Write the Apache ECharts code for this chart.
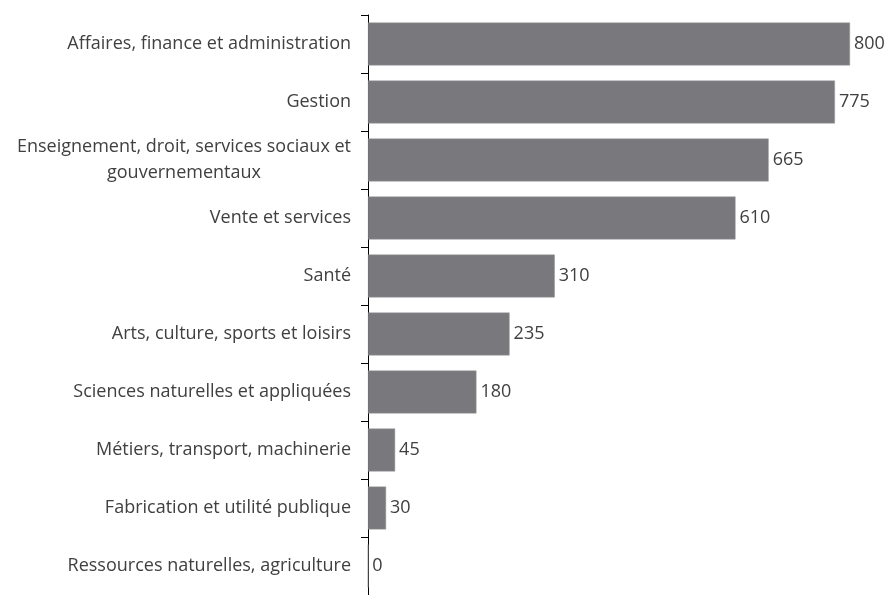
<!DOCTYPE html>
<html><head><meta charset="utf-8">
<script src="https://cdn.jsdelivr.net/npm/echarts@6/dist/echarts.min.js"></script>
<style>html,body{margin:0;padding:0;background:#fff}#c{width:887px;height:595px}</style>
</head><body><div id="c"></div>
<script>
const categories = [
  "Affaires, finance et administration",
  "Gestion",
  "Enseignement, droit, services sociaux et\ngouvernementaux",
  "Vente et services",
  "Santé",
  "Arts, culture, sports et loisirs",
  "Sciences naturelles et appliquées",
  "Métiers, transport, machinerie",
  "Fabrication et utilité publique",
  "Ressources naturelles, agriculture"
];
const values = [800, 775, 665, 610, 310, 235, 180, 45, 30, 0];

const chart = echarts.init(document.getElementById('c'));
const FONT = 'Open Sans';
const FS = 18;
chart.setOption({
  animation: false,
  grid: {left: 368, top: 15, width: 482, height: 582, containLabel: false},
  xAxis: {type: 'value', min: 0, max: 800, show: false},
  yAxis: {
    type: 'category', data: categories, inverse: true,
    axisLine: {show: true, lineStyle: {color: '#000', width: 1}},
    axisTick: {show: true, length: 7, lineStyle: {color: '#000'}},
    axisLabel: {
      margin: 17, color: '#404040', fontFamily: FONT, fontSize: FS,
      formatter: function (v) {
        return v.split('\n').map(s => '{c|' + s + '}').join('\n');
      },
      rich: {c: {align: 'center', color: '#404040', fontFamily: FONT, fontSize: FS, lineHeight: 26}}
    },
    splitLine: {show: false}
  },
  series: [{
    type: 'bar', data: values, barCategoryGap: '26%',
    itemStyle: {color: '#78787d', borderColor: '#9a9a9e', borderWidth: 0.5},
    label: {show: true, position: 'right', distance: 4, color: '#404040', fontFamily: FONT, fontSize: FS}
  }]
});
</script></body></html>
